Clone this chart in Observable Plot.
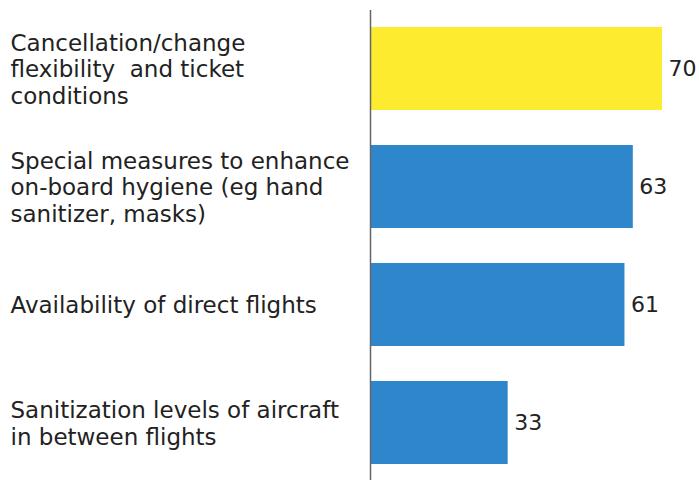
<!DOCTYPE html>
<html>
<head>
<meta charset="utf-8">
<script src="https://cdn.jsdelivr.net/npm/d3@7"></script>
<script src="https://cdn.jsdelivr.net/npm/@observablehq/plot@0.6"></script>
<style>
  html, body { margin: 0; padding: 0; background: #fff; }
  #chart svg { display: block; }
</style>
</head>
<body>
<div id="chart"></div>
<script>
const categories = [
  "Cancellation/change\nflexibility  and ticket\nconditions",
  "Special measures to enhance\non-board hygiene (eg hand\nsanitizer, masks)",
  "Availability of direct flights",
  "Sanitization levels of aircraft\nin between flights"
];
const values = [70, 63, 61, 33];
const barColors = ["#FDEB2F", "#2E86CB", "#2E86CB", "#2E86CB"];

const data = categories.map((c, i) => ({ category: c, value: values[i], color: barColors[i] }));

const chart = Plot.plot({
  width: 699,
  height: 481,
  marginLeft: 370,
  marginRight: 37,
  marginTop: 10,
  marginBottom: 1,
  style: { fontFamily: "'DejaVu Sans', sans-serif", background: "#fff" },
  x: { domain: [0, 70], axis: null },
  y: { domain: categories, axis: null, paddingInner: 0.30, paddingOuter: 0.13 },
  marks: [
    Plot.barX(data, { y: "category", x: "value", fill: "color" }),
    Plot.ruleX([0], { stroke: "#666", strokeWidth: 1.5 }),
    Plot.text(data, {
      y: "category", x: "value", text: d => String(d.value),
      textAnchor: "start", dx: 6, fontSize: 22, fill: "#222"
    }),
    Plot.text(data, {
      y: "category", x: 0, text: "category",
      textAnchor: "start", dx: -360, fontSize: 23, lineHeight: 1.15, fill: "#222"
    })
  ]
});
document.getElementById("chart").appendChild(chart);
</script>
</body>
</html>
